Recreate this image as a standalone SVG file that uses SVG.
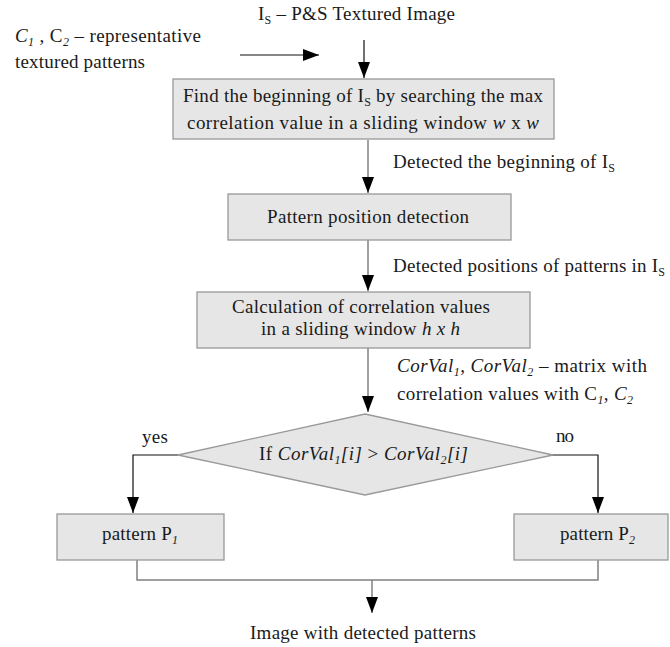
<svg xmlns="http://www.w3.org/2000/svg" width="670" height="647" viewBox="0 0 670 647">
<style>
text{font-family:"Liberation Serif","Times New Roman",serif;font-size:19px;fill:#1a1a1a}
.box{fill:#e6e6e6;stroke:#999;stroke-width:1.3}
.c{fill:none;stroke:#808080;stroke-width:1.5}
.b{fill:none;stroke:#111;stroke-width:1.2}
.i{font-style:italic}
.s{font-size:12px}
</style>
<defs>
<marker id="ah" markerUnits="userSpaceOnUse" markerWidth="16" markerHeight="12" viewBox="0 0 16 12" refX="16" refY="6" orient="auto">
<path d="M0,0 L16,6 L0,12 Z" fill="#000"/>
</marker>
</defs>
<g id="connectors">
<line class="b" x1="364" y1="40" x2="364" y2="78" marker-end="url(#ah)"/>
<line class="b" x1="240" y1="55" x2="319" y2="55" marker-end="url(#ah)"/>
<line class="c" x1="368" y1="140" x2="368" y2="193" marker-end="url(#ah)"/>
<line class="c" x1="368" y1="240" x2="368" y2="291" marker-end="url(#ah)"/>
<line class="c" x1="368" y1="348" x2="368" y2="412" marker-end="url(#ah)"/>
<polyline class="b" points="178,455 133,455 133,513" marker-end="url(#ah)"/>
<polyline class="b" points="552,455 598,455 598,513" marker-end="url(#ah)"/>
<polyline class="c" points="137,560 137,580 598,580 598,560"/>
<line class="c" x1="372" y1="580" x2="372" y2="613" marker-end="url(#ah)"/>
</g>
<g id="input-image">
<text x="258" y="20" textLength="197">I<tspan class="s" dy="4">S</tspan><tspan dy="-4"> – P&amp;S Textured Image</tspan></text>
</g>
<g id="input-patterns">
<text x="15" y="42" textLength="186"><tspan class="i">C</tspan><tspan class="s i" dy="4">1</tspan><tspan dy="-4"> , C</tspan><tspan class="s i" dy="4">2</tspan><tspan dy="-4"> –  representative</tspan></text>
<text x="15" y="68" textLength="130">textured patterns</text>
</g>
<g id="find-beginning">
<rect class="box" x="173" y="79" width="381" height="60"/>
<text x="183" y="102" textLength="360">Find the beginning of I<tspan class="s" dy="4">S</tspan><tspan dy="-4"> by searching the max</tspan></text>
<text x="187" y="129" textLength="352">correlation value in a sliding window <tspan class="i">w</tspan> x <tspan class="i">w</tspan></text>
</g>
<g id="label-beginning">
<text x="393" y="168" textLength="222">Detected the beginning of I<tspan class="s" dy="4">S</tspan></text>
</g>
<g id="pattern-position">
<rect class="box" x="228" y="194" width="283" height="46"/>
<text x="267" y="223" textLength="202">Pattern position detection</text>
</g>
<g id="label-positions">
<text x="393" y="272" textLength="272">Detected positions of patterns in I<tspan class="s" dy="4">S</tspan></text>
</g>
<g id="calc-correlation">
<rect class="box" x="197" y="292" width="333" height="56"/>
<text x="232" y="313" textLength="258">Calculation of correlation values</text>
<text x="261" y="335" textLength="199">in a sliding window <tspan class="i">h x h</tspan></text>
</g>
<g id="label-corval">
<text x="397" y="372" textLength="250"><tspan class="i">CorVal</tspan><tspan class="s i" dy="4">1</tspan><tspan dy="-4">, </tspan><tspan class="i">CorVal</tspan><tspan class="s i" dy="4">2</tspan><tspan dy="-4"> –  matrix with</tspan></text>
<text x="397" y="400" textLength="236">correlation values with C<tspan class="s i" dy="4">1</tspan><tspan dy="-4">, </tspan><tspan class="i">C</tspan><tspan class="s i" dy="4">2</tspan></text>
</g>
<g id="decision">
<polygon class="box" points="365,414 553,455 365,495 178,455"/>
<text x="259" y="460" textLength="209">If <tspan class="i">CorVal</tspan><tspan class="s i" dy="4">1</tspan><tspan class="i" dy="-4">[i]</tspan> &gt; <tspan class="i">CorVal</tspan><tspan class="s i" dy="4">2</tspan><tspan class="i" dy="-4">[i]</tspan></text>
<text x="142" y="443" textLength="26">yes</text>
<text x="556" y="442" textLength="18">no</text>
</g>
<g id="pattern-p1">
<rect class="box" x="57" y="514" width="167" height="46"/>
<text x="102" y="540" textLength="76">pattern P<tspan class="s i" dy="4">1</tspan></text>
</g>
<g id="pattern-p2">
<rect class="box" x="514" y="514" width="154" height="46"/>
<text x="560" y="540" textLength="75">pattern P<tspan class="s i" dy="4">2</tspan></text>
</g>
<g id="output">
<text x="250" y="639" textLength="226">Image with detected patterns</text>
</g>
</svg>
